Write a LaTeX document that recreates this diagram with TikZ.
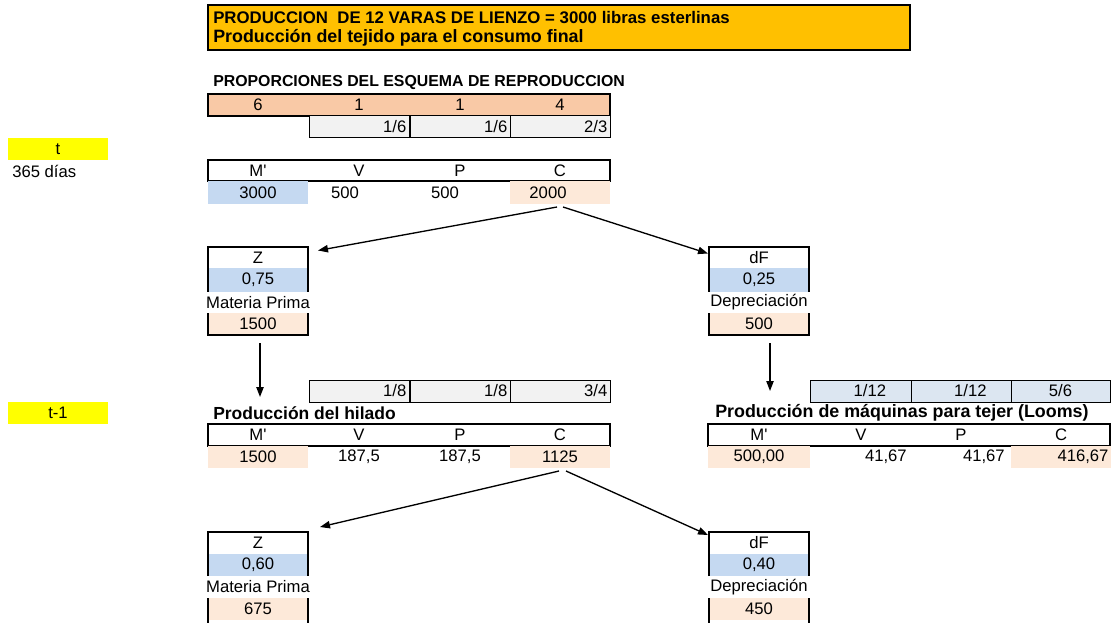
\documentclass[tikz,border=0pt]{standalone}
\usepackage{fontspec}
\setmainfont{Liberation Sans}[Ligatures=TeXOff]
\usetikzlibrary{arrows.meta}
\definecolor{titleor}{HTML}{FFC000}
\definecolor{peach}{HTML}{F9C9A6}
\definecolor{lpeach}{HTML}{FDE9D9}
\definecolor{lblue}{HTML}{C5D9F1}
\definecolor{lgray}{HTML}{F2F2F2}
\definecolor{gblue}{HTML}{DCE6F1}
\definecolor{yel}{HTML}{FFFF00}

\begin{document}
\begin{tikzpicture}[x=0.75pt,y=-0.75pt,
  every node/.style={font=\fontsize{12.5}{14}\selectfont},
  thickline/.style={line width=2.2pt},
  thinline/.style={line width=0.75pt},
  cellc/.style={minimum width=75pt, minimum height=16.5pt, inner sep=0pt, outer sep=0pt, anchor=center},
  cellr/.style={text width=71pt, align=right, inner xsep=2pt, inner ysep=0pt, minimum height=16.5pt, outer sep=0pt, anchor=center},
  txt/.style={inner sep=0pt, anchor=center},
  rtxt/.style={inner sep=0pt, anchor=east},
  lab/.style={inner sep=0pt, anchor=west, font=\fontsize{#1}{15}\selectfont\bfseries},
  flow/.style={line width=1pt, -{Triangle[length=7.5pt,width=5.5pt]}}
]
\useasboundingbox (0,0) rectangle (1112,623);

% ---------- title ----------
\draw[fill=titleor, thickline] (208,5) rectangle (910,50);
\node[lab=12.6] (title1) at (213,18) {PRODUCCION\ \ DE 12 VARAS DE LIENZO = 3000 libras esterlinas};
\node[lab=13.4] (title2) at (213,38) {Producción del tejido para el consumo final};

% ---------- proportions ----------
\node[lab=11.9] (prop) at (213,83) {PROPORCIONES DEL ESQUEMA DE REPRODUCCION};
\draw[fill=peach, thickline] (208,94) rectangle (610,116);
\node[txt] (p6) at (258,105) {6};
\node[txt] (p1a) at (359,105) {1};
\node[txt] (p1b) at (460,105) {1};
\node[txt] (p4) at (560,105) {4};
\node[cellr, fill=lgray, draw, thinline] (f1) at (359,127) {1/6};
\node[cellr, fill=lgray, draw, thinline] (f2) at (460,127) {1/6};
\node[cellr, fill=lgray, draw, thinline] (f3) at (560,127) {2/3};

% ---------- period t ----------
\node[cellc, fill=yel] (tt) at (58,149) {t};
\node[inner sep=0pt, anchor=west] (dias) at (12,171) {365 días};

% ---------- M' V P C, period t ----------
\draw[thickline] (208,160) rectangle (610,181);
\node[txt] (hM) at (258,170.5) {M'};
\node[txt] (hV) at (359,170.5) {V};
\node[txt] (hP) at (460,170.5) {P};
\node[txt] (hC) at (560,170.5) {C};
\node[cellc, fill=lblue, minimum height=17.25pt] (c3000) at (258,192.5) {3000};
\node[txt] (v500a) at (345,192.5) {500};
\node[txt] (v500b) at (445,192.5) {500};
\node[cellc, fill=lpeach, minimum height=17.25pt] (c2000) at (560,192.5) {\hspace*{-18pt}2000};

% ---------- Z box, period t ----------
\node[cellc, fill=white] (zA) at (258,257.5) {Z};
\node[cellc, fill=lblue, minimum height=18pt] (zAv) at (258,280) {0,75};
\node[txt] (zAl) at (258,302.5) {Materia Prima};
\node[cellc, fill=lpeach] (zAn) at (258,324) {1500};
\draw[thickline] (208,292) -- (208,247) -- (308,247) -- (308,292);
\draw[thickline] (208,313) -- (208,335) -- (308,335) -- (308,313);

% ---------- dF box, period t ----------
\node[cellc, fill=white] (dA) at (759,257.5) {dF};
\node[cellc, fill=lblue, minimum height=18pt] (dAv) at (759,280) {0,25};
\node[txt] (dAl) at (759,302.5) {Depreciación};
\node[cellc, fill=lpeach] (dAn) at (759,324) {500};
\draw[thickline] (709,292) -- (709,247) -- (809,247) -- (809,292);
\draw[thickline] (709,313) -- (709,335) -- (809,335) -- (809,313);

\draw[flow] ([shift={(-3,3)}]c2000.south) -- ([shift={(10,4)}]zA.north east);
\draw[flow] ([shift={(3,3)}]c2000.south) -- ([shift={(-1,7)}]dA.north west);

% ---------- period t-1 ----------
\node[cellc, fill=yel] (tt1) at (58,413) {t-1};

\node[cellr, fill=lgray, draw, thinline] (g1) at (359,391) {1/8};
\node[cellr, fill=lgray, draw, thinline] (g2) at (460,391) {1/8};
\node[cellr, fill=lgray, draw, thinline] (g3) at (560,391) {3/4};

\node[cellc, fill=gblue, draw, thinline, minimum width=75.75pt] (b1) at (860.5,391) {\hspace*{14pt}1/12};
\node[cellc, fill=gblue, draw, thinline] (b2) at (961,391) {\hspace*{14pt}1/12};
\node[cellc, fill=gblue, draw, thinline, minimum width=74.25pt] (b3) at (1060.5,391) {5/6};

\node[lab=13.1] (hil) at (213,413) {Producción del hilado};
\node[lab=13.4] (loom) at (715,413) {Producción de máquinas para tejer (Looms)};

% yarn production table
\draw[thickline] (208,424) rectangle (610,446);
\node[txt] (yM) at (258,435) {M'};
\node[txt] (yV) at (359,435) {V};
\node[txt] (yP) at (460,435) {P};
\node[txt] (yC) at (560,435) {C};
\node[cellc, fill=lpeach] (y1500) at (258,457) {1500};
\node[txt] (y187a) at (359,457) {187,5};
\node[txt] (y187b) at (460,457) {187,5};
\node[cellc, fill=lpeach] (y1125) at (560,457) {1125};

% loom production table
\draw[thickline] (708,424) rectangle (1110,446);
\node[txt] (lM) at (759,435) {M'};
\node[txt] (lV) at (861,435) {V};
\node[txt] (lP) at (961,435) {P};
\node[txt] (lC) at (1061,435) {C};
\node[cellc, fill=lpeach, minimum width=76.5pt] (l500) at (759,457) {500,00};
\node[rtxt] (l41a) at (907,457) {41,67};
\node[rtxt] (l41b) at (1005,457) {41,67};
\node[cellr, fill=lpeach, text width=71.25pt] (l416) at (1061,457) {416,67};

\draw[flow] ([shift={(2,8)}]zAn.south) -- ([shift={(2,-49)}]y1500.north);
\draw[flow] ([shift={(11,8)}]dAn.south) -- ([shift={(11,-55)}]l500.north);

% ---------- Z box, period t-1 ----------
\node[cellc, fill=white] (zB) at (258,543) {Z};
\node[cellc, fill=lblue] (zBv) at (258,565) {0,60};
\node[txt] (zBl) at (258,587) {Materia Prima};
\node[cellc, fill=lpeach] (zBn) at (258,609) {675};
\draw[thickline] (208,576) -- (208,532) -- (308,532) -- (308,576);
\draw[thickline] (208,598) -- (208,623);
\draw[thickline] (308,598) -- (308,623);

% ---------- dF box, period t-1 ----------
\node[cellc, fill=white] (dB) at (759,543) {dF};
\node[cellc, fill=lblue] (dBv) at (759,565) {0,40};
\node[txt] (dBl) at (759,587) {Depreciación};
\node[cellc, fill=lpeach] (dBn) at (759,609) {450};
\draw[thickline] (709,576) -- (709,532) -- (809,532) -- (809,576);
\draw[thickline] (709,598) -- (709,623);
\draw[thickline] (809,598) -- (809,623);

\draw[flow] ([shift={(-1,3)}]y1125.south) -- ([shift={(12,-5)}]zB.north east);
\draw[flow] ([shift={(6,3)}]y1125.south) -- ([shift={(-1,3)}]dB.north west);
\end{tikzpicture}
\end{document}
